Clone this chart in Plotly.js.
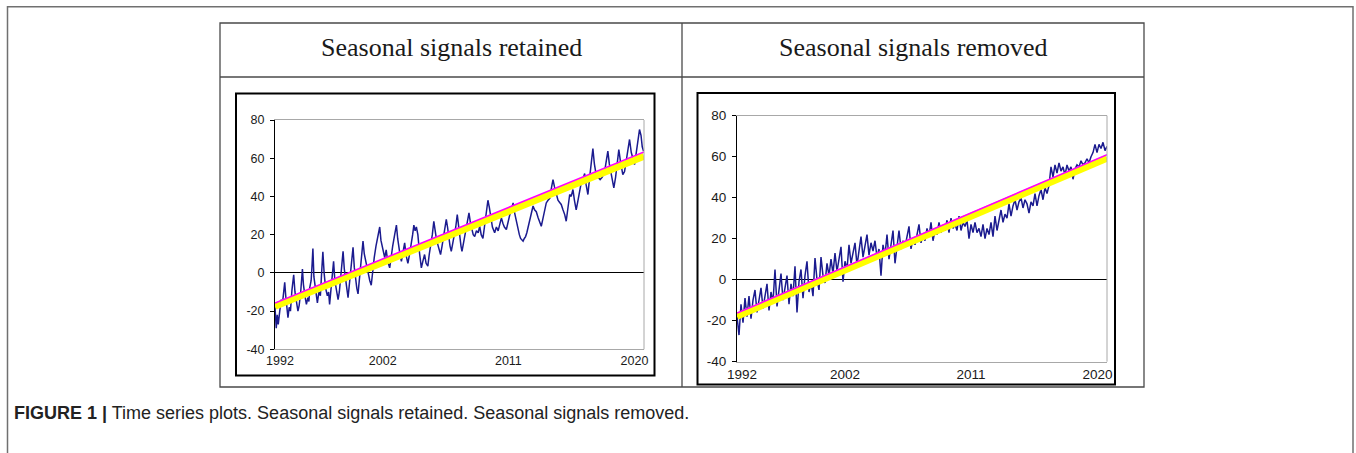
<!DOCTYPE html>
<html>
<head>
<meta charset="utf-8">
<script src="https://cdn.plot.ly/plotly-3.0.1.min.js"></script>
<style>
  html, body { margin: 0; padding: 0; background: #ffffff; }
  #chart { width: 1356px; height: 453px; }
</style>
</head>
<body>
<div id="chart"></div>
<script>
// ---------------- DATA ----------------
// x is the observation index (weeks since the start of 1992)
const panelTitles = ["Seasonal signals retained", "Seasonal signals removed"];
const captionBold = "FIGURE 1 |";
const captionText = " Time series plots. Seasonal signals retained. Seasonal signals removed.";

const xTickVals = [20, 432, 936, 1442];
const xTickText = ["1992", "2002", "2011", "2020"];
const yTickVals = [-40, -20, 0, 20, 40, 60, 80];
const yTickText = ["-40", "-20", "0", "20", "40", "60", "80"];

// Seasonal signals retained
const weeksRetained = [
  0, 3, 5, 9, 13, 19, 25, 30, 36, 39,
  43, 47, 52, 57, 62, 68, 75, 80, 86, 92,
  97, 103, 110, 114, 120, 126, 132, 136, 139, 145,
  149, 152, 156, 161, 165, 170, 176, 182, 187, 192,
  197, 203, 210, 215, 219, 225, 230, 235, 240, 246,
  253, 258, 264, 269, 273, 278, 284, 289, 293, 299,
  306, 313, 318, 324, 328, 333, 338, 344, 349, 353,
  358, 364, 369, 375, 380, 386, 392, 398, 405, 412,
  420, 425, 430, 435, 440, 446, 452, 460, 466, 472,
  480, 487, 492, 497, 502, 507, 513, 520, 526, 533,
  540, 546, 552, 557, 562, 567, 573, 580, 587, 593,
  600, 606, 613, 619, 625, 631, 637, 642, 647, 653,
  658, 664, 670, 675, 681, 687, 692, 697, 702, 707,
  713, 719, 725, 731, 736, 741, 746, 750, 757, 764,
  771, 778, 784, 790, 795, 801, 808, 815, 821, 827,
  834, 840, 847, 854, 860, 866, 872, 881, 888, 895,
  901, 908, 914, 920, 928, 935, 941, 948, 955, 960,
  966, 970, 975, 980, 985, 990, 995, 1000, 1005, 1010,
  1015, 1022, 1028, 1035, 1041, 1048, 1055, 1062, 1068, 1074,
  1081, 1088, 1095, 1102, 1108, 1115, 1121, 1128, 1135, 1141,
  1148, 1155, 1162, 1168, 1174, 1182, 1188, 1195, 1201, 1208,
  1214, 1221, 1228, 1235, 1242, 1248, 1255, 1262, 1269, 1275,
  1281, 1288, 1296, 1304, 1312, 1318, 1322, 1328, 1335, 1341,
  1348, 1353, 1359, 1366, 1372, 1379, 1386, 1395, 1402, 1408,
  1415, 1422, 1429, 1436, 1442, 1448, 1455, 1462, 1468, 1473,
  1478
];
const valuesRetained = [
  -18, -26, -29, -22, -27, -20, -14, -16, -8, -5,
  -12, -17, -23.5, -18, -20, -9, -1, -10, -14, -20,
  -17, -10, 2, -6, -12, -16.5, -13, -15, -8, -4,
  5, 12.7, -2, -8, -12, -15.7, -10, -12, 0, 11,
  0, -8, -12, -10, -16.5, -8, -2, 6, -4, -9,
  -14, -10, 0, 5, 11.3, 2, -6, -9, -13, -6,
  2, 13.4, 3, -5, -8, -11, -4, 4, 8, 16.6,
  10, 6, 4, -2, -4, -6.5, 2, 8, 14, 19,
  24, 17, 14, 10, 8, 12, 6, 2.6, 10, 14,
  20, 25, 18, 12, 9, 6, 10, 15.7, 9, 5,
  10, 14, 20, 25, 22, 24, 20, 10, 2.6, 6,
  9.6, 5, 3.5, 10, 14, 20, 27, 22, 18, 14.8,
  12, 9.6, 14, 18, 22, 28, 24, 18, 14, 11.3,
  15, 20, 24, 30.5, 24, 18, 14, 11.3, 16, 21,
  26, 31.4, 26, 22, 20, 19, 22, 21, 24.4, 20,
  18, 24, 30, 38, 34, 28, 24, 21, 24, 22,
  26, 28.8, 26, 24, 22.7, 27, 30, 33, 36.6, 32,
  28, 25, 23.5, 20, 18, 17, 16.6, 18, 19, 21,
  23.5, 27, 31, 35, 33, 32, 29, 27, 24.4, 28,
  33, 36.6, 38, 39, 44, 48.8, 45, 41, 38, 37,
  35.8, 33, 30.5, 27, 34, 41, 40, 43.6, 38, 33,
  37, 42, 47, 49, 52, 46, 41, 50, 57, 65,
  57, 51.4, 50, 48.8, 50, 52, 53, 58, 63.7, 57,
  51.4, 47, 44.5, 50, 57, 64.5, 58, 51.4, 53, 58,
  64, 69.8, 63, 59, 56.7, 62, 68, 75, 72, 66,
  63.7
];

// Seasonal signals removed: one value every 8 weeks from week 0
const removedStartWeek = 0;
const removedStepWeeks = 8;
const valuesRemoved = [
  -18, -27, -12, -21, -9, -18, -8, -19, -10, -5,
  -16, -9, -4, -14, -7, -2, -15, -6, -11, 5,
  -13, -4, 3, -10, -3, 2, -12, -2, -8, 6.5,
  -16, -1, 5, -9, 2, 9, -6, -1, -8, 10.6,
  0, -5, 11, 2, -1.6, 8, 2, 10, 3, 13,
  4, 10, 16, -1, 9, 5, 17, 8, 13, 18,
  7, 14, 21, 11, 16, 22, 12, 18, 14, 19,
  11, 15, 2, 17, 12, 22, 10, 18, 24, 8,
  17, 24, 15, 19, 16, 21, 26, 15, 20, 17,
  23, 27, 18, 22, 19, 25, 21, 28, 19, 24,
  22, 28, 23, 26, 24, 29, 23, 30, 25, 27,
  24, 31, 24, 28, 26, 29, 20, 27, 23, 28,
  23, 25, 21, 27, 20, 25, 22, 28, 21, 31,
  24, 29, 34, 28, 32, 30, 37, 31, 36, 39,
  34, 38, 40, 35, 39, 37, 32.5, 38, 36, 42,
  36, 41, 44, 39, 45, 42, 46, 55, 50, 56,
  52, 57, 53, 55, 51, 56, 53, 55, 49, 54,
  56, 55, 58, 56, 57, 59, 57, 60, 62, 66,
  62, 66, 64, 67, 63, 65
];
const weeksRemoved = valuesRemoved.map((_, i) => removedStartWeek + i * removedStepWeeks);

// Linear trends (start / end values)
const trendWeeks = [0, 1480];
const trendRetainedYellow = [-17.5, 61];
const trendRetainedMagenta = [-15.8, 63.3];
const trendRemovedYellow = [-17.8, 59.3];
const trendRemovedMagenta = [-16.3, 61];

// ---------------- DRAWING ----------------
const W = 1356, H = 453;
const px = v => v / W;
const py = v => 1 - v / H;

const blue = '#1b1b8f';
const traces = [];
function addPanel(xa, ya, weeks, vals, yel, mag) {
  traces.push({x: weeks, y: vals, xaxis: xa, yaxis: ya, type: 'scatter', mode: 'lines',
               line: {color: blue, width: 1.5}, hoverinfo: 'skip'});
  traces.push({x: trendWeeks, y: yel, xaxis: xa, yaxis: ya, type: 'scatter', mode: 'lines',
               line: {color: '#ffff00', width: 7}, hoverinfo: 'skip'});
  traces.push({x: trendWeeks, y: mag, xaxis: xa, yaxis: ya, type: 'scatter', mode: 'lines',
               line: {color: '#ff00ff', width: 1.6}, hoverinfo: 'skip'});
}
addPanel('x', 'y', weeksRetained, valuesRetained, trendRetainedYellow, trendRetainedMagenta);
addPanel('x2', 'y2', weeksRemoved, valuesRemoved, trendRemovedYellow, trendRemovedMagenta);

function xAxis(d0, d1, anchor, fs) {
  return {domain: [px(d0), px(d1)], anchor: anchor, range: [0, 1480],
          showgrid: false, zeroline: false, showline: true, mirror: true,
          linecolor: '#a8a8a8', linewidth: 1, ticks: '',
          tickvals: xTickVals, ticktext: xTickText,
          tickfont: {family: 'Liberation Sans, Arial, sans-serif', size: fs, color: '#1a1a1a'},
          fixedrange: true};
}
function yAxis(top, bottom, anchor, fs) {
  return {domain: [py(bottom), py(top)], anchor: anchor, range: [-40, 80],
          showgrid: false, zeroline: true, zerolinecolor: '#000000', zerolinewidth: 1,
          showline: true, linecolor: '#000000', linewidth: 1,
          ticks: 'outside', ticklen: 4, tickcolor: '#000000', tickwidth: 1,
          tickvals: yTickVals, ticktext: yTickText, ticklabelstandoff: 3,
          tickfont: {family: 'Liberation Sans, Arial, sans-serif', size: fs, color: '#1a1a1a'},
          fixedrange: true};
}

const shapes = [
  // outer figure box
  {type: 'rect', xref: 'paper', yref: 'paper', x0: px(7.5), x1: px(1353), y0: -0.05, y1: py(6.7),
   line: {color: '#707070', width: 1.5}},
  // table
  {type: 'rect', xref: 'paper', yref: 'paper', x0: px(220), x1: px(1144), y0: py(387), y1: py(23),
   line: {color: '#4a4a4a', width: 1.3}},
  {type: 'line', xref: 'paper', yref: 'paper', x0: px(220), x1: px(1144), y0: py(77), y1: py(77),
   line: {color: '#4a4a4a', width: 1.3}},
  {type: 'line', xref: 'paper', yref: 'paper', x0: px(682), x1: px(682), y0: py(23), y1: py(387),
   line: {color: '#4a4a4a', width: 1.3}},
  // chart frames
  {type: 'rect', xref: 'paper', yref: 'paper', x0: px(236), x1: px(654.5), y0: py(375.5), y1: py(93.5),
   line: {color: '#000000', width: 2}},
  {type: 'rect', xref: 'paper', yref: 'paper', x0: px(697.5), x1: px(1115), y0: py(384.5), y1: py(93),
   line: {color: '#000000', width: 2}},
  // right borders of plot areas
  {type: 'line', xref: 'x domain', yref: 'y domain', x0: 1, x1: 1, y0: 0, y1: 1,
   line: {color: '#a8a8a8', width: 1}},
  {type: 'line', xref: 'x2 domain', yref: 'y2 domain', x0: 1, x1: 1, y0: 0, y1: 1,
   line: {color: '#a8a8a8', width: 1}}
];

const annotations = [
  {text: panelTitles[0], xref: 'paper', yref: 'paper', x: px(451), y: py(48),
   xanchor: 'center', yanchor: 'middle', showarrow: false,
   font: {family: 'Liberation Serif, Times New Roman, serif', size: 26, color: '#1a1a1a'}},
  {text: panelTitles[1], xref: 'paper', yref: 'paper', x: px(913), y: py(48),
   xanchor: 'center', yanchor: 'middle', showarrow: false,
   font: {family: 'Liberation Serif, Times New Roman, serif', size: 26, color: '#1a1a1a'}},
  {text: '<b>' + captionBold + '</b>' + captionText, xref: 'paper', yref: 'paper',
   x: px(12), y: py(413), xanchor: 'left', yanchor: 'middle', showarrow: false,
   font: {family: 'Liberation Sans, Arial, sans-serif', size: 18, color: '#222222'}}
];

const layout = {
  width: W, height: H,
  margin: {l: 0, r: 0, t: 0, b: 0},
  paper_bgcolor: '#ffffff', plot_bgcolor: '#ffffff',
  showlegend: false,
  xaxis: xAxis(275, 644, 'y', 12.5),
  yaxis: yAxis(120, 349.3, 'x', 12.5),
  xaxis2: xAxis(737, 1107, 'y2', 13.5),
  yaxis2: yAxis(115.7, 361.7, 'x2', 13.5),
  shapes: shapes,
  annotations: annotations
};

Plotly.newPlot('chart', traces, layout, {staticPlot: true, displayModeBar: false});
</script>
</body>
</html>
